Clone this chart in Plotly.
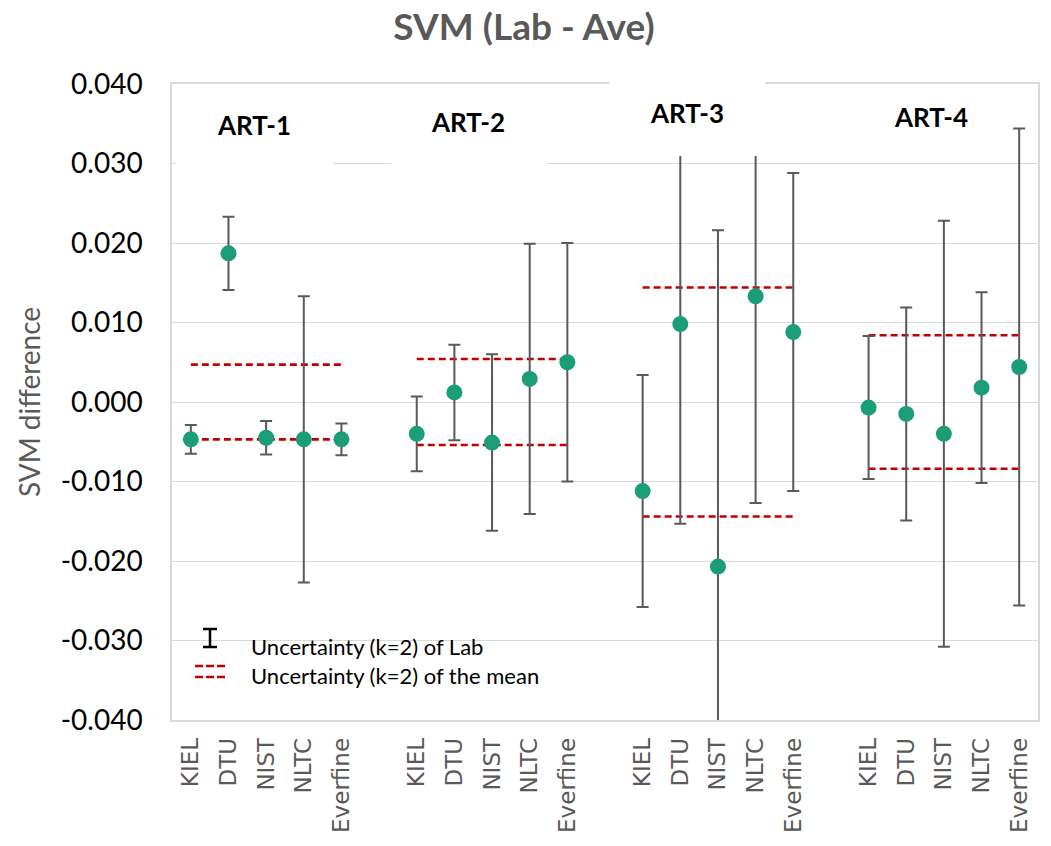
import plotly.graph_objects as go

# ---------------- data ----------------
labs = ["KIEL", "DTU", "NIST", "NLTC", "Everfine"]
artifacts = ["ART-1", "ART-2", "ART-3", "ART-4"]

art1_val = [-0.0047, 0.0187, -0.0045, -0.0047, -0.0047]
art1_unc = [0.0018, 0.0046, 0.0021, 0.0180, 0.0020]
art2_val = [-0.0040, 0.0012, -0.0051, 0.0029, 0.0050]
art2_unc = [0.0047, 0.0060, 0.0111, 0.0170, 0.0150]
art3_val = [-0.0112, 0.0098, -0.0207, 0.0133, 0.0088]
art3_unc = [0.0146, 0.0251, 0.0423, 0.0260, 0.0200]
art4_val = [-0.0007, -0.0015, -0.0040, 0.0018, 0.0044]
art4_unc = [0.0090, 0.0134, 0.0268, 0.0120, 0.0300]

mean_unc = [0.0047, 0.0054, 0.0144, 0.0084]

y_tick_vals = [-0.04, -0.03, -0.02, -0.01, 0.0, 0.01, 0.02, 0.03, 0.04]
y_tick_labels = ["-0.040", "-0.030", "-0.020", "-0.010", "0.000",
                 "0.010", "0.020", "0.030", "0.040"]

title_text = "SVM (Lab - Ave)"
y_title = "SVM difference"
legend_lab = "Uncertainty (k=2) of Lab"
legend_mean = "Uncertainty (k=2) of the mean"

# ---------------- layout helpers ----------------
W, H = 1051, 846
PL, PR, PT, PB = 172, 1038, 84, 720   # plot area in pixels


def px_x(p):
    return (p - PL) / (PR - PL)


def px_y(p):
    return (PB - p) / (PB - PT)


vals = [art1_val, art2_val, art3_val, art4_val]
uncs = [art1_unc, art2_unc, art3_unc, art4_unc]
slot = len(labs) + 1  # one empty category between groups

xs, ys, es, tickvals, ticktext = [], [], [], [], []
for g in range(len(artifacts)):
    for i, lab in enumerate(labs):
        pos = g * slot + i
        xs.append(pos)
        ys.append(vals[g][i])
        es.append(uncs[g][i])
        tickvals.append(pos)
        ticktext.append(lab)

# mean uncertainty dashed lines
lx, ly = [], []
for g, u in enumerate(mean_unc):
    a, b = g * slot, g * slot + len(labs) - 1
    lx += [a, b, None, a, b, None]
    ly += [u, u, None, -u, -u, None]

fig = go.Figure()
fig.add_trace(go.Scatter(
    x=lx, y=ly, mode="lines",
    line=dict(color="#C00000", width=2.6, dash="7px,4px"),
    hoverinfo="skip", showlegend=False))
fig.add_trace(go.Scatter(
    x=xs, y=ys, mode="markers",
    marker=dict(color="#1B9E77", size=16),
    error_y=dict(type="data", array=es, symmetric=True,
                 color="#595959", thickness=2, width=6),
    showlegend=False))

shapes = []
# white text boxes (as in the original chart) covering grid/bars
for (x0, x1, y0, y1) in [(176, 333, 92, 168), (391, 547, 90, 167), (609, 765, 82, 156)]:
    shapes.append(dict(type="rect", xref="paper", yref="paper",
                       x0=px_x(x0), x1=px_x(x1), y0=px_y(y1), y1=px_y(y0),
                       fillcolor="white", line=dict(width=0), layer="above"))

# legend glyphs
shapes.append(dict(type="line", xref="paper", yref="paper",
                   x0=px_x(210), x1=px_x(210), y0=px_y(629), y1=px_y(647),
                   line=dict(color="black", width=2.5)))
for yy in (629, 647):
    shapes.append(dict(type="line", xref="paper", yref="paper",
                       x0=px_x(203), x1=px_x(217), y0=px_y(yy), y1=px_y(yy),
                       line=dict(color="black", width=2.5)))
for yy in (666, 677):
    for d0 in (195, 206, 217):
        shapes.append(dict(type="line", xref="paper", yref="paper",
                           x0=px_x(d0), x1=px_x(d0 + 8), y0=px_y(yy), y1=px_y(yy),
                           line=dict(color="#C00000", width=2.5)))

annotations = []
art_pos = [(254, 125), (468, 122), (687, 113), (931, 117)]
for name, (ax, ay) in zip(artifacts, art_pos):
    annotations.append(dict(text=name, xref="paper", yref="paper",
                            x=px_x(ax), y=px_y(ay), xanchor="center", yanchor="middle",
                            showarrow=False,
                            font=dict(family="Lato", size=26, color="black", weight="bold")))
for txt, yy in [(legend_lab, 646), (legend_mean, 675)]:
    annotations.append(dict(text=txt, xref="paper", yref="paper",
                            x=px_x(249), y=px_y(yy), xanchor="left", yanchor="middle",
                            showarrow=False,
                            font=dict(family="Lato", size=22, color="black")))

fig.update_layout(
    width=W, height=H, autosize=False,
    margin=dict(l=PL, r=W - PR, t=PT, b=H - PB, pad=0),
    paper_bgcolor="white", plot_bgcolor="white",
    title=dict(text=title_text, x=524 / W, xref="container", xanchor="center",
               y=1 - 27 / H, yref="container", yanchor="middle",
               font=dict(family="Lato", size=37, color="#595959", weight="bold")),
    shapes=shapes, annotations=annotations,
)
fig.update_xaxes(
    range=[-0.5, len(artifacts) * slot - 1.5],
    tickmode="array", tickvals=tickvals, ticktext=ticktext, tickangle=-90,
    tickfont=dict(family="DejaVu Sans", size=23, color="#595959"),
    showgrid=False, zeroline=False,
    showline=True, mirror=True, linecolor="#D9D9D9", linewidth=1.5,
    ticks="", ticklabelstandoff=7, automargin=False,
)
fig.update_yaxes(
    range=[-0.04, 0.04],
    tickmode="array", tickvals=y_tick_vals, ticktext=y_tick_labels,
    tickfont=dict(family="Lato", size=28, color="black"),
    showgrid=True, gridcolor="#D9D9D9", gridwidth=1.3, zeroline=False,
    showline=True, mirror=True, linecolor="#D9D9D9", linewidth=1.5,
    ticks="", ticklabelstandoff=22, automargin=False,
    title=dict(text=y_title, font=dict(family="Lato", size=28, color="#595959"), standoff=12),
)

fig.write_html("out.html")
